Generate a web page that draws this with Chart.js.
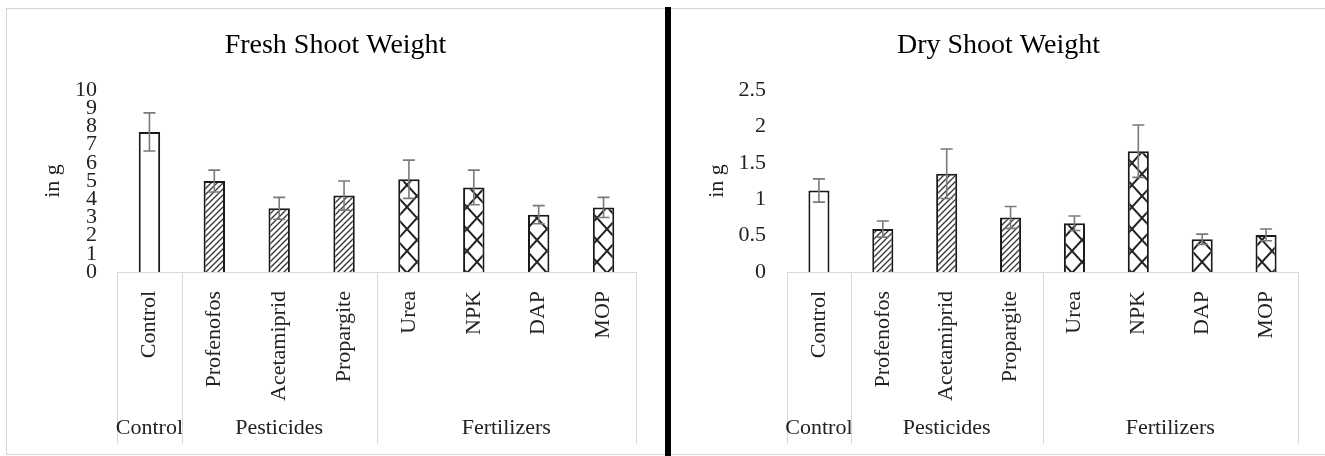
<!DOCTYPE html>
<html>
<head>
<meta charset="utf-8">
<script src="https://cdn.jsdelivr.net/npm/chart.js@4.4.0/dist/chart.umd.min.js"></script>
<style>
  body { margin: 0; width: 1325px; height: 456px; overflow: hidden; background: #fff; position: relative; }
  #frame { position: absolute; left: 6px; top: 8px; width: 1340px; height: 445px; border: 1px solid #d4d4d4; }
  #divider { position: absolute; left: 665px; top: 7px; width: 6px; height: 449px; background: #000; }
  canvas { position: absolute; }
</style>
</head>
<body>
<div id="frame"></div>
<canvas id="fresh" width="657" height="445" style="left:7px;top:9px"></canvas>
<canvas id="dry" width="653" height="445" style="left:672px;top:9px"></canvas>
<div id="divider"></div>
<script>
// Data
const categories = ['Control', 'Profenofos', 'Acetamiprid', 'Propargite', 'Urea', 'NPK', 'DAP', 'MOP'];
const groupNames = ['Control', 'Pesticides', 'Fertilizers'];
const groupOf = [0, 1, 1, 1, 2, 2, 2, 2];

const freshValues = [7.7, 5.0, 3.5, 4.2, 5.1, 4.65, 3.15, 3.55];
const freshErrors = [1.05, 0.6, 0.6, 0.8, 1.05, 0.95, 0.5, 0.55];
const freshTicks = [0, 1, 2, 3, 4, 5, 6, 7, 8, 9, 10];

const dryValues = [1.12, 0.59, 1.35, 0.75, 0.67, 1.66, 0.45, 0.51];
const dryErrors = [0.16, 0.11, 0.34, 0.15, 0.1, 0.36, 0.07, 0.08];
const dryTicks = [0, 0.5, 1, 1.5, 2, 2.5];

const serif = 'Liberation Serif';

// Fill patterns
function hatchPattern() {
  const c = document.createElement('canvas');
  c.width = 6; c.height = 6;
  const g = c.getContext('2d');
  g.fillStyle = '#fff';
  g.fillRect(0, 0, 6, 6);
  g.strokeStyle = '#3a3a3a';
  g.lineWidth = 1.4;
  g.beginPath();
  g.moveTo(-1, 7); g.lineTo(7, -1);
  g.moveTo(-1, 1); g.lineTo(1, -1);
  g.moveTo(5, 7); g.lineTo(7, 5);
  g.stroke();
  return g.createPattern(c, 'repeat');
}

function crossPattern() {
  const c = document.createElement('canvas');
  c.width = 20; c.height = 22;
  const g = c.getContext('2d');
  g.fillStyle = '#fff';
  g.fillRect(0, 0, 20, 22);
  g.strokeStyle = '#222';
  g.lineWidth = 2;
  g.beginPath();
  g.moveTo(0, 0); g.lineTo(20, 22);
  g.moveTo(20, 0); g.lineTo(0, 22);
  g.stroke();
  return g.createPattern(c, 'repeat');
}

const groupFills = ['#ffffff', hatchPattern(), crossPattern()];

// Error bars drawn through the y scale
const errorBars = {
  id: 'errorBars',
  afterDatasetsDraw(chart, args, opts) {
    const { ctx, scales: { y } } = chart;
    const meta = chart.getDatasetMeta(0);
    const data = chart.data.datasets[0].data;
    ctx.save();
    ctx.strokeStyle = '#7a7a7a';
    ctx.lineWidth = 1.6;
    meta.data.forEach((bar, i) => {
      const top = y.getPixelForValue(data[i] + opts.errors[i]);
      const bot = y.getPixelForValue(data[i] - opts.errors[i]);
      ctx.beginPath();
      ctx.moveTo(bar.x, top); ctx.lineTo(bar.x, bot);
      ctx.moveTo(bar.x - 6, top); ctx.lineTo(bar.x + 6, top);
      ctx.moveTo(bar.x - 6, bot); ctx.lineTo(bar.x + 6, bot);
      ctx.stroke();
    });
    ctx.restore();
  }
};

// Second level of the category axis: group boxes and names
const groupAxis = {
  id: 'groupAxis',
  afterDraw(chart) {
    const { ctx, chartArea, scales: { x } } = chart;
    const half = (x.getPixelForValue(1) - x.getPixelForValue(0)) / 2;
    const lineBottom = 435;
    ctx.save();
    ctx.strokeStyle = '#d9d9d9';
    ctx.lineWidth = 1;
    ctx.fillStyle = '#222';
    ctx.font = '22px "' + serif + '"';
    ctx.textAlign = 'center';
    ctx.textBaseline = 'middle';
    let start = 0;
    for (let i = 1; i <= categories.length; i++) {
      if (i === categories.length || groupOf[i] !== groupOf[start]) {
        const x0 = x.getPixelForValue(start) - half;
        const x1 = x.getPixelForValue(i - 1) + half;
        [x0, x1].forEach(px => {
          ctx.beginPath();
          ctx.moveTo(Math.round(px) + 0.5, chartArea.bottom);
          ctx.lineTo(Math.round(px) + 0.5, lineBottom);
          ctx.stroke();
        });
        ctx.fillText(groupNames[groupOf[start]], (x0 + x1) / 2, 419);
        start = i;
      }
    }
    ctx.restore();
  }
};

function makeChart(id, title, values, errors, ticks, yWidth, rightPad, titlePad, tickPad) {
  new Chart(document.getElementById(id), {
    type: 'bar',
    data: {
      labels: categories,
      datasets: [{
        data: values,
        backgroundColor: groupOf.map(g => groupFills[g]),
        borderColor: '#1a1a1a',
        borderWidth: 2,
        categoryPercentage: 1,
        barPercentage: 0.33
      }]
    },
    options: {
      responsive: false,
      animation: false,
      devicePixelRatio: 1,
      layout: { padding: 0 },
      plugins: {
        legend: { display: false },
        tooltip: { enabled: false },
        title: {
          display: true,
          text: title,
          color: '#000',
          font: { family: serif, size: 28, weight: 'normal' },
          padding: { top: 19.5, bottom: 28 }
        },
        errorBars: { errors: errors }
      },
      scales: {
        x: {
          grid: { display: false },
          border: { display: true, color: '#d9d9d9', width: 1 },
          ticks: {
            color: '#222',
            font: { family: serif, size: 22 },
            minRotation: 90,
            maxRotation: 90,
            autoSkip: false,
            padding: 11
          },
          afterFit(scale) { scale.height = 182; }
        },
        y: {
          min: ticks[0],
          max: ticks[ticks.length - 1],
          grid: { display: false, drawTicks: false },
          border: { display: false },
          ticks: {
            color: '#222',
            font: { family: serif, size: 22 },
            autoSkip: false,
            padding: tickPad,
            callback: v => String(v)
          },
          afterBuildTicks(scale) { scale.ticks = ticks.map(v => ({ value: v })); },
          title: {
            display: true,
            text: 'in g',
            color: '#222',
            font: { family: serif, size: 22 },
            padding: { top: titlePad, bottom: 0 }
          },
          afterFit(scale) { scale.width = yWidth; }
        },
        // empty right-hand spacer so the title stays centred on the panel
        spacer: {
          type: 'linear',
          position: 'right',
          grid: { display: false, drawTicks: false },
          border: { display: false },
          ticks: { display: false },
          afterFit(scale) { scale.width = rightPad; }
        }
      }
    },
    plugins: [errorBars, groupAxis]
  });
}

makeChart('fresh', 'Fresh Shoot Weight', freshValues, freshErrors, freshTicks, 110, 28, 32.8, 20);
makeChart('dry', 'Dry Shoot Weight', dryValues, dryErrors, dryTicks, 115, 27, 31.8, 21);
</script>
</body>
</html>
